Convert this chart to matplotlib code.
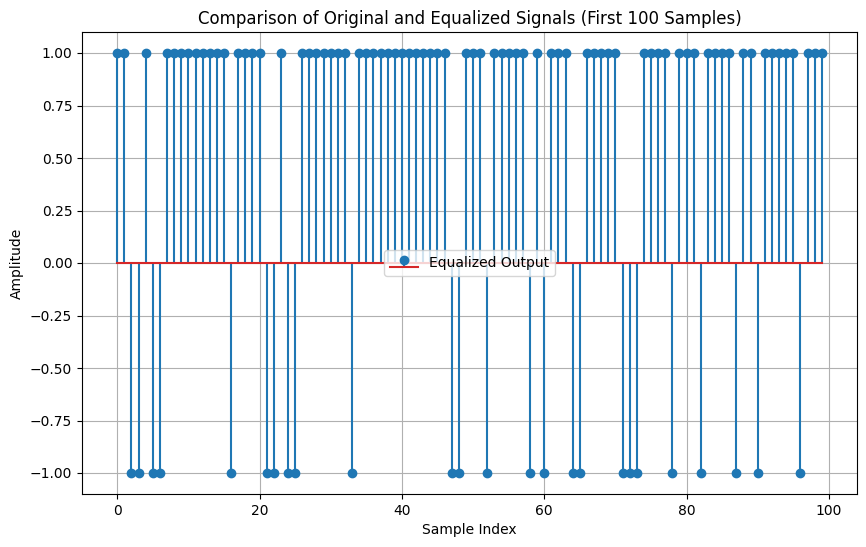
import matplotlib
matplotlib.use("Agg")
import matplotlib.pyplot as plt
import numpy as np

neg_indices = [2, 3, 5, 6, 16, 21, 22, 24, 25, 33, 47, 48, 52, 58, 60, 64, 65,
               71, 72, 73, 78, 82, 87, 90, 96]
n_samples = 100
sample_index = list(range(n_samples))
equalized = [(-1.0 if i in neg_indices else 1.0) for i in sample_index]

fig = plt.figure(figsize=(8.66, 5.47), dpi=100)
ax = fig.add_axes([82/866, 1 - 494/547, 775/866, 462/547])
ax.stem(sample_index, equalized, label='Equalized Output')
ax.set_title('Comparison of Original and Equalized Signals (First 100 Samples)')
ax.set_xlabel('Sample Index')
ax.set_ylabel('Amplitude')
ax.legend(loc='center')
ax.grid(True)
fig.savefig('out.png', dpi=100)
